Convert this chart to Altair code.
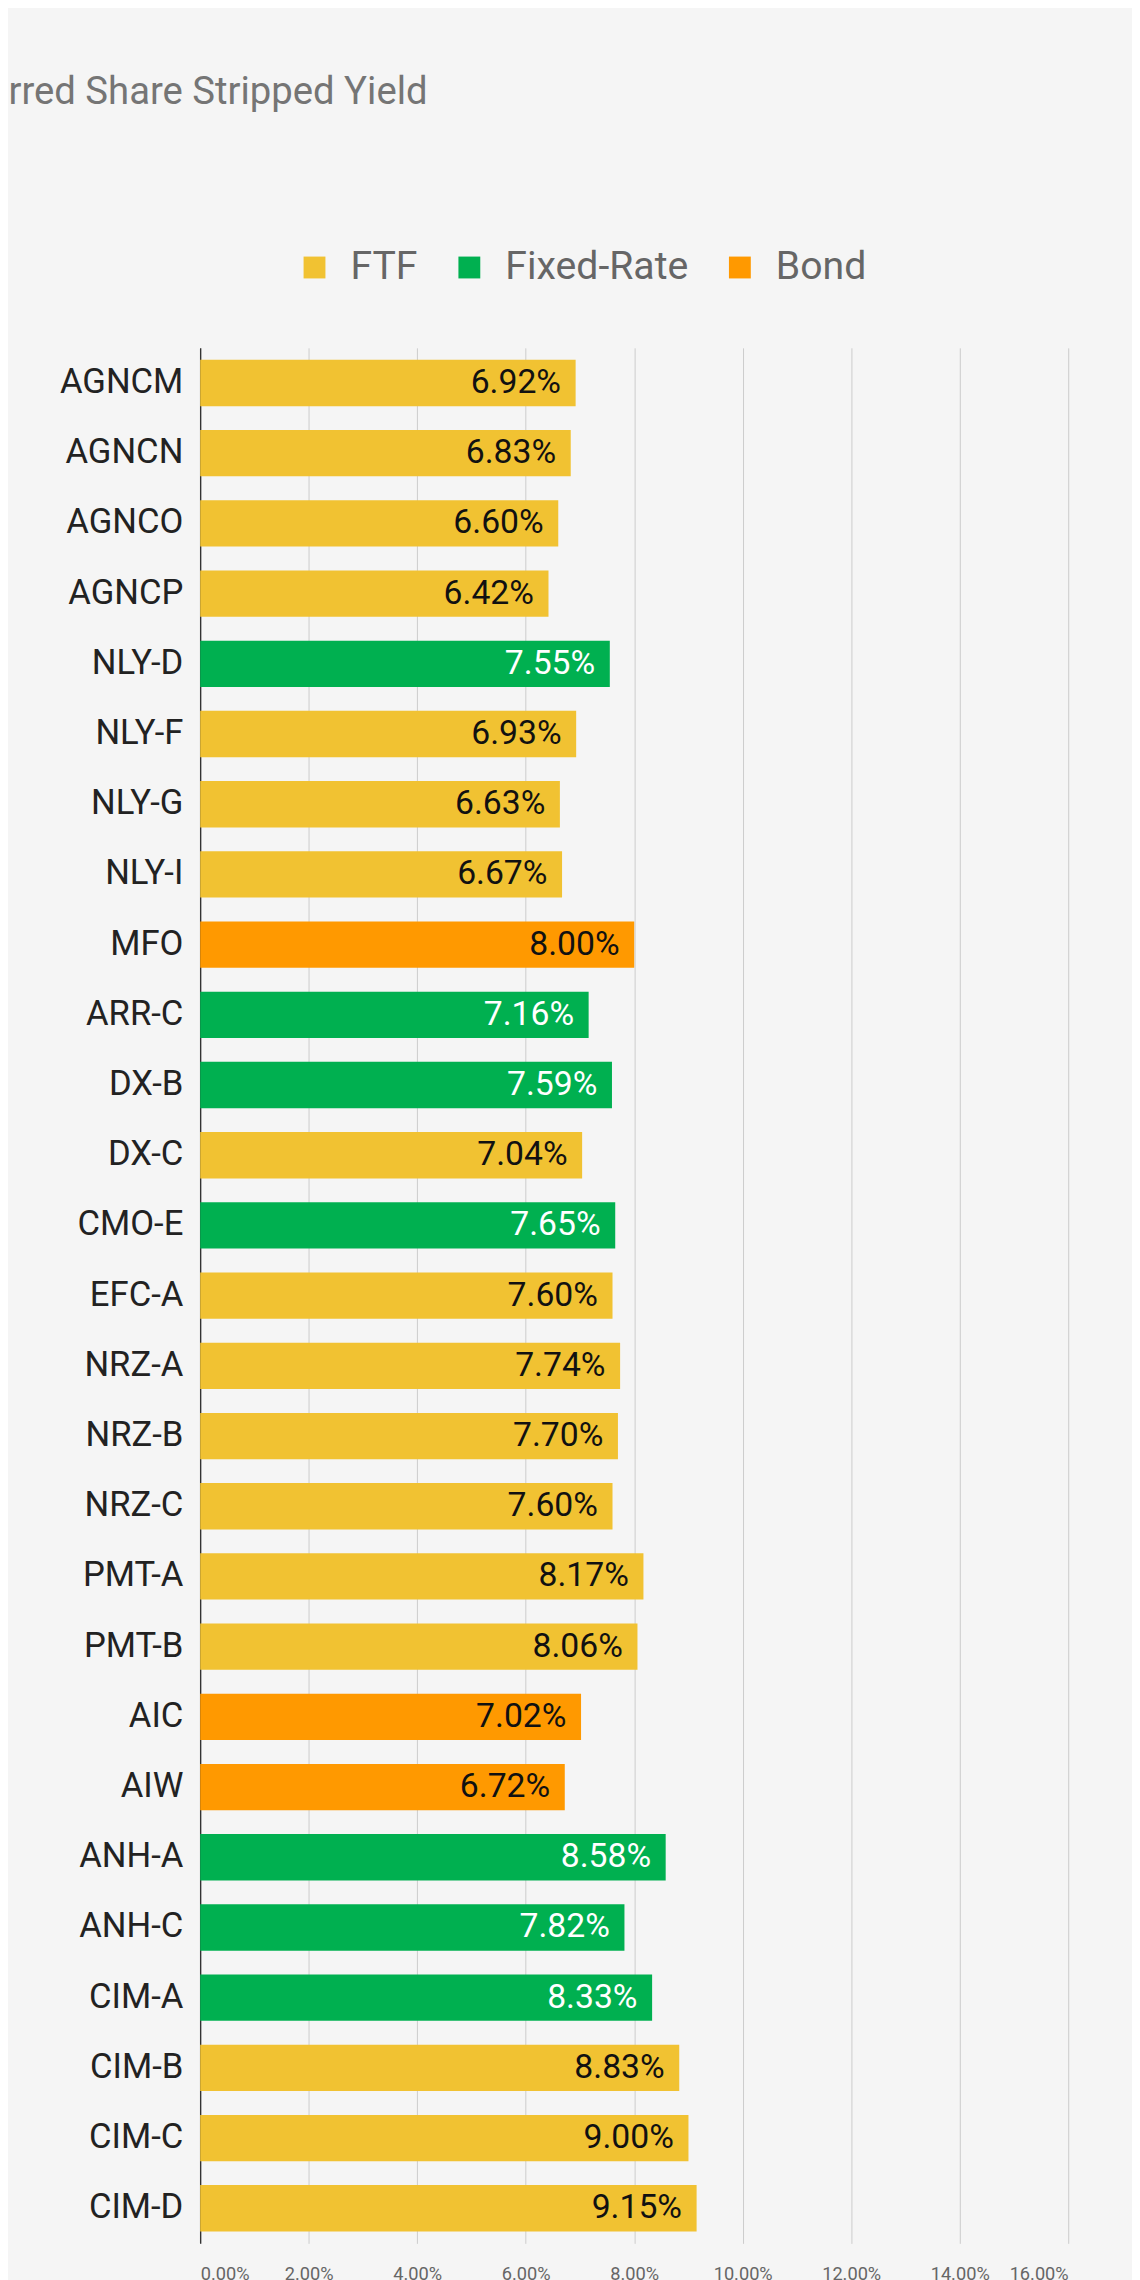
import altair as alt
import pandas as pd

tickers = ["AGNCM","AGNCN","AGNCO","AGNCP","NLY-D","NLY-F","NLY-G","NLY-I","MFO","ARR-C","DX-B","DX-C","CMO-E","EFC-A","NRZ-A","NRZ-B","NRZ-C","PMT-A","PMT-B","AIC","AIW","ANH-A","ANH-C","CIM-A","CIM-B","CIM-C","CIM-D"]
yields = [6.92,6.83,6.60,6.42,7.55,6.93,6.63,6.67,8.00,7.16,7.59,7.04,7.65,7.60,7.74,7.70,7.60,8.17,8.06,7.02,6.72,8.58,7.82,8.33,8.83,9.00,9.15]
types = ["FTF","FTF","FTF","FTF","Fixed-Rate","FTF","FTF","FTF","Bond","Fixed-Rate","Fixed-Rate","FTF","Fixed-Rate","FTF","FTF","FTF","FTF","FTF","FTF","Bond","Bond","Fixed-Rate","Fixed-Rate","Fixed-Rate","FTF","FTF","FTF"]

df = pd.DataFrame({"t": tickers, "y": yields, "type": types})
df["label"] = df["y"].map(lambda v: f"{v:.2f}%")

x = alt.X("y:Q", scale=alt.Scale(domain=[0, 16], nice=False),
          axis=alt.Axis(values=list(range(0, 17, 2)), labelExpr="format(datum.value, '.2f') + '%'",
                        title=None, grid=True, gridColor="#c8c8c8", domain=False, ticks=False,
                        labelFontSize=20, labelColor="#666666", labelFont="Roboto", labelPadding=24))
y = alt.Y("t:N", sort=tickers, scale=alt.Scale(paddingInner=0.34, paddingOuter=0.17),
          axis=alt.Axis(title=None, ticks=False, domain=True, domainColor="#333333", domainWidth=1.5,
                        labelFontSize=38, labelColor="#222222", labelFont="Roboto", labelPadding=19))

bars = alt.Chart(df).mark_bar().encode(
    x=x, y=y,
    color=alt.Color("type:N", scale=alt.Scale(domain=["FTF","Fixed-Rate","Bond"], range=["#f1c232","#00b050","#ff9900"]),
                    legend=alt.Legend(title=None, orient="none", legendX=104, legendY=-110, direction="horizontal",
                                      symbolType="square", symbolSize=576, symbolStrokeWidth=0,
                                      labelFontSize=43, labelColor="#666666", labelFont="Roboto",
                                      labelLimit=400, labelOffset=18, columnPadding=35)))
text = alt.Chart(df).mark_text(align="right", dx=-16, fontSize=37, font="Roboto").encode(
    x="y:Q", y=alt.Y("t:N", sort=tickers), text="label:N",
    color=alt.condition(alt.datum.type == "Fixed-Rate", alt.value("white"), alt.value("#111111")))

chart = (bars + text).properties(
    width=953, height=2081,
    title=alt.Title("Preferred Share Stripped Yield", anchor="start", fontSize=42, font="Roboto",
                    fontWeight="normal", color="#757575", offset=149, dx=-155),
    background="#f5f5f5",
    autosize=alt.AutoSizeParams(type="none"),
    padding={"left": 211, "top": 254, "right": 70, "bottom": 100},
).configure_view(stroke=None)

chart.save("out.html", embed_options={"renderer": "svg", "actions": False})
